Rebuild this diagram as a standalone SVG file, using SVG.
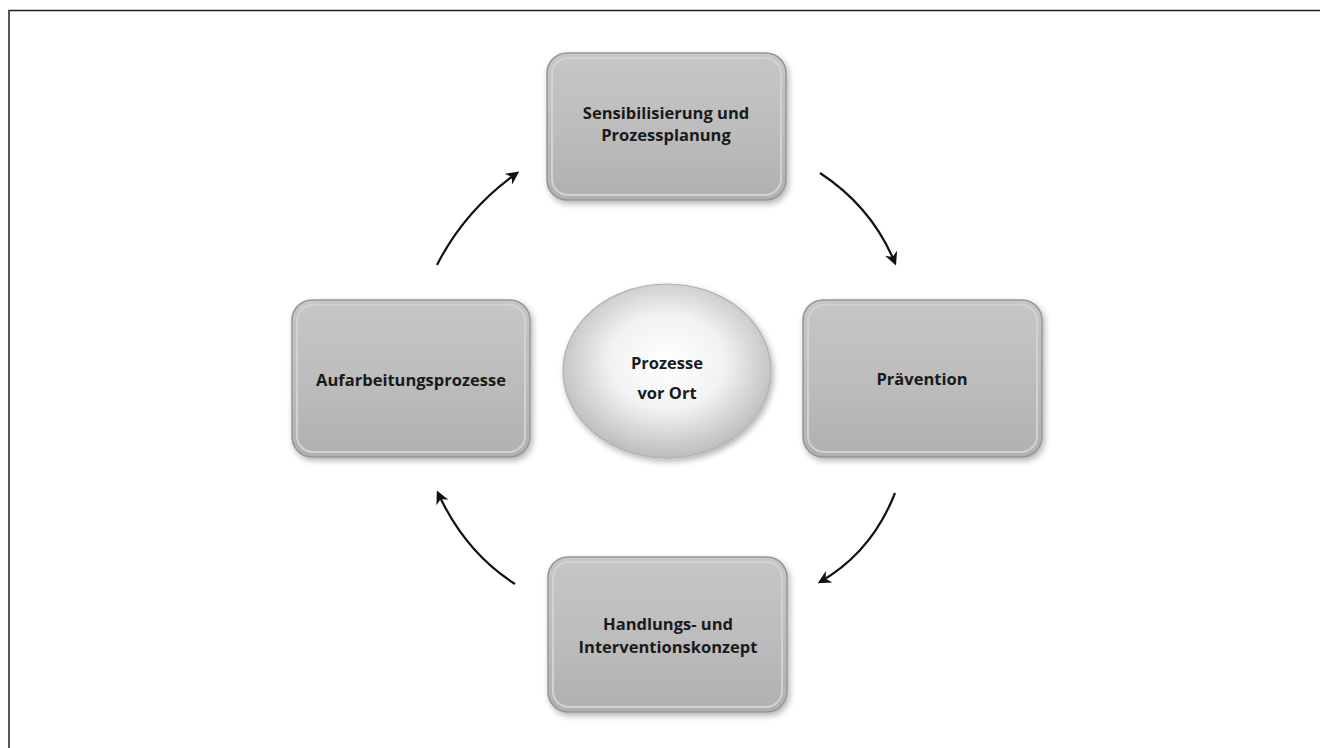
<svg xmlns="http://www.w3.org/2000/svg" width="1320" height="748" viewBox="0 0 1320 748">
<defs>
<linearGradient id="boxg" x1="0" y1="0" x2="0" y2="1">
<stop offset="0" stop-color="#c6c6c6"/>
<stop offset="0.5" stop-color="#bdbdbd"/>
<stop offset="1" stop-color="#b0b0b0"/>
</linearGradient>
<radialGradient id="circg" cx="0.5" cy="0.45" r="0.55">
<stop offset="0" stop-color="#ffffff"/>
<stop offset="0.5" stop-color="#f2f2f2"/>
<stop offset="1" stop-color="#bcbcbc"/>
</radialGradient>
<filter id="sh" x="-10%" y="-10%" width="125%" height="125%">
<feGaussianBlur in="SourceAlpha" stdDeviation="3"/>
<feOffset dx="2" dy="3" result="b"/>
<feComponentTransfer><feFuncA type="linear" slope="0.3"/></feComponentTransfer>
<feMerge><feMergeNode/><feMergeNode in="SourceGraphic"/></feMerge>
</filter>
<marker id="ah" viewBox="0 0 10 10" refX="8" refY="5" markerWidth="6" markerHeight="6" orient="auto" markerUnits="strokeWidth">
<path d="M0,0 L10,5 L0,10 L3,5 z" fill="#111"/>
</marker>
</defs>
<style>
.box{fill:url(#boxg);stroke:#969696;stroke-width:1.5;filter:url(#sh)}
.inner{fill:none;stroke:#d2d2d2;stroke-width:2}
.t{font-family:"Open Sans","Liberation Sans",sans-serif;font-weight:bold;font-size:16.5px;fill:#1a1a1a;text-anchor:middle}
.arr{fill:none;stroke:#111;stroke-width:2.2;marker-end:url(#ah)}
</style>
<rect width="1320" height="748" fill="#fff"/>
<path d="M9,748 V10.5 H1320" fill="none" stroke="#222" stroke-width="1.5"/>

<g id="connectors">
<path class="arr" d="M437,265 Q465,210 517,173"/>
<path class="arr" d="M820,173 Q872,207 895,263"/>
<path class="arr" d="M895,493 Q872,552 820,582"/>
<path class="arr" d="M515,584 Q465,552 438,493"/>
</g>

<g id="node-top">
<rect class="box" x="547" y="53" width="239" height="147" rx="20"/>
<rect class="inner" x="552" y="58" width="229" height="137" rx="16"/>
<text class="t" x="666" y="119">Sensibilisierung und</text>
<text class="t" x="666" y="141">Prozessplanung</text>
</g>

<g id="node-right">
<rect class="box" x="803" y="300" width="239" height="157" rx="20"/>
<rect class="inner" x="808" y="305" width="229" height="147" rx="16"/>
<text class="t" x="922" y="385">Prävention</text>
</g>

<g id="node-bottom">
<rect class="box" x="548" y="557" width="239" height="155" rx="20"/>
<rect class="inner" x="553" y="562" width="229" height="145" rx="16"/>
<text class="t" x="668" y="630">Handlungs- und</text>
<text class="t" x="668" y="653">Interventionskonzept</text>
</g>

<g id="node-left">
<rect class="box" x="292" y="300" width="238" height="157" rx="20"/>
<rect class="inner" x="297" y="305" width="228" height="147" rx="16"/>
<text class="t" x="411" y="386">Aufarbeitungsprozesse</text>
</g>

<g id="node-center">
<ellipse cx="667" cy="371" rx="104" ry="87" fill="url(#circg)" stroke="#b0b0b0" stroke-width="1.2" filter="url(#sh)"/>
<text class="t" x="667" y="369">Prozesse</text>
<text class="t" x="667" y="399">vor Ort</text>
</g>
</svg>
